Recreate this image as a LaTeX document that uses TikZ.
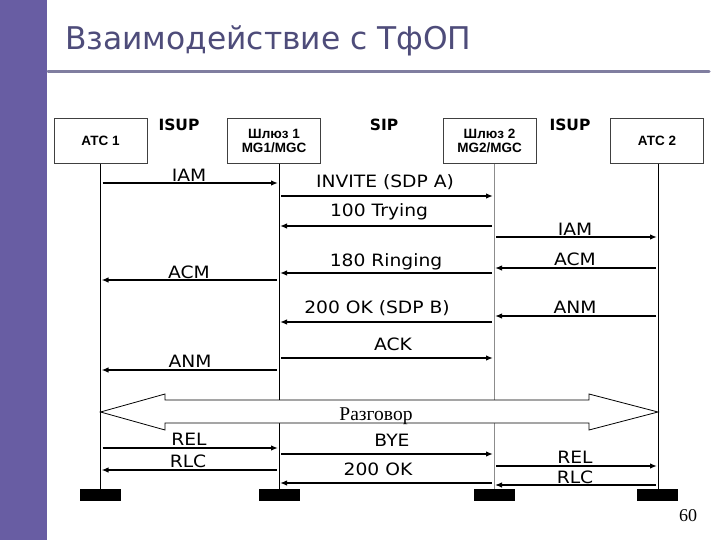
\documentclass[tikz,border=0pt]{standalone}
\usepackage{fontspec}
\newfontfamily\titlefont{DejaVu Sans}
\newfontfamily\msgfont[FakeStretch=1.1]{DejaVu Sans}
\newfontfamily\hdrfont{DejaVu Sans}
\newfontfamily\boxfont{Liberation Sans}
\newfontfamily\cyrserif{Liberation Serif}
\usetikzlibrary{arrows.meta}
\definecolor{barpurple}{RGB}{104,93,163}
\definecolor{titlecol}{RGB}{78,76,122}
\definecolor{rulecol}{RGB}{128,126,160}
\begin{document}
\begin{tikzpicture}[x=1pt,y=-1pt,
  actor/.style={draw=black!75, line width=0.8pt, minimum width=93pt, minimum height=45pt, inner sep=0pt, align=center, font=\boxfont\bfseries\fontsize{13.5}{15}\selectfont},
  lifeline/.style={line width=1pt, black},
  endbox/.style={fill=black, draw=none, minimum width=41pt, minimum height=12pt, inner sep=0pt},
  msg/.style={line width=1.8pt, -{Latex[length=7pt,width=5.5pt]}, shorten <=2pt, shorten >=1pt},
  lab/.style={anchor=base, inner sep=0pt, font=\msgfont\fontsize{17}{20}\selectfont},
  proto/.style={anchor=base, inner sep=0pt, font=\hdrfont\bfseries\fontsize{15.5}{17}\selectfont}
]
\useasboundingbox (0,0) rectangle (720,540);
\fill[white] (0,0) rectangle (720,540);
\fill[barpurple] (0,0) rectangle (47,540);
\node[anchor=base west, inner sep=0pt, text=titlecol, font=\titlefont\fontsize{31.3}{36}\selectfont] (title) at (65,50) {Взаимодействие с ТфОП};
\draw[line width=3pt, rulecol, line cap=round] (48,72) -- (709,72);

% actors
\node[actor] (a1) at (100.5,141) {АТС 1};
\node[actor] (g1) at (274,141) {Шлюз 1\\[-1pt]MG1/MGC};
\node[actor] (g2) at (489.5,141) {Шлюз 2\\[-1pt]MG2/MGC};
\node[actor] (a2) at (657,141) {АТС 2};
\node[proto] (p1) at (179,131) {ISUP};
\node[proto] (p2) at (384,131) {SIP};
\node[proto] (p3) at (570,131) {ISUP};

% end boxes
\node[endbox] (e1) at (100.5,495) {};
\node[endbox] (e2) at (279.5,495) {};
\node[endbox] (e3) at (494,495) {};
\node[endbox] (e4) at (657.5,495) {};

% lifelines
\coordinate (l1) at (100.5,164);
\coordinate (l2) at (279,164);
\coordinate (l3) at (494,164);
\coordinate (l4) at (658,164);
\draw[lifeline] (l1) -- (l1 |- e1.north);
\draw[lifeline] (l2) -- (l2 |- e2.north);
\draw[lifeline, black!45] (l3) -- (l3 |- e3.north);
\draw[lifeline] (l4) -- (l4 |- e4.north);

% messages
\draw[msg] (l1 |- 0,183) -- (l2 |- 0,183);
\node[lab] (t1) at (189,181.5) {IAM};
\draw[msg] (l2 |- 0,196) -- (l3 |- 0,196);
\node[lab] (t2) at (385,188) {INVITE (SDP A)};
\draw[msg] (l3 |- 0,226) -- (l2 |- 0,226);
\node[lab] (t3) at (379,216.5) {100 Trying};
\draw[msg] (l3 |- 0,237) -- (l4 |- 0,237);
\node[lab] (t4) at (575,236) {IAM};
\draw[msg] (l4 |- 0,268) -- (l3 |- 0,268);
\node[lab] (t5) at (575,265) {ACM};
\draw[msg] (l3 |- 0,273) -- (l2 |- 0,273);
\node[lab] (t6) at (386,266) {180 Ringing};
\draw[msg] (l2 |- 0,280) -- (l1 |- 0,280);
\node[lab] (t7) at (189,278.5) {ACM};
\draw[msg] (l3 |- 0,322) -- (l2 |- 0,322);
\node[lab] (t8) at (377,313) {200 OK (SDP B)};
\draw[msg] (l4 |- 0,316) -- (l3 |- 0,316);
\node[lab] (t9) at (575,313) {ANM};
\draw[msg] (l2 |- 0,358) -- (l3 |- 0,358);
\node[lab] (t10) at (393,350) {ACK};
\draw[msg] (l2 |- 0,370) -- (l1 |- 0,370);
\node[lab] (t11) at (190,367) {ANM};

% conversation double arrow
\draw[fill=white, line width=0.8pt] (l1 |- 0,412) -- (165,394) -- (165,400) -- (589,400) -- (589,394) -- (l4 |- 0,412) -- (589,430) -- (589,423) -- (165,423) -- (165,430) -- cycle;
\node[anchor=base, inner sep=0pt, font=\cyrserif\fontsize{19.5}{21}\selectfont] (talk) at (376,420) {Разговор};

\draw[msg] (l1 |- 0,448) -- (l2 |- 0,448);
\node[lab] (t12) at (189,445) {REL};
\draw[msg] (l2 |- 0,454) -- (l3 |- 0,454);
\node[lab] (t13) at (392,446) {BYE};
\draw[msg] (l2 |- 0,470) -- (l1 |- 0,470);
\node[lab] (t14) at (188,467) {RLC};
\draw[msg] (l3 |- 0,483) -- (l2 |- 0,483);
\node[lab] (t15) at (378,475) {200 OK};
\draw[msg] (l3 |- 0,466) -- (l4 |- 0,466);
\node[lab] (t16) at (575,463) {REL};
\draw[msg, line width=1.2pt] (l4 |- 0,485) -- (l3 |- 0,485);
\node[lab] (t17) at (575,483) {RLC};

\node[anchor=base, inner sep=0pt, font=\cyrserif\fontsize{18}{20}\selectfont] (pg) at (688,521) {60};
\end{tikzpicture}
\end{document}
